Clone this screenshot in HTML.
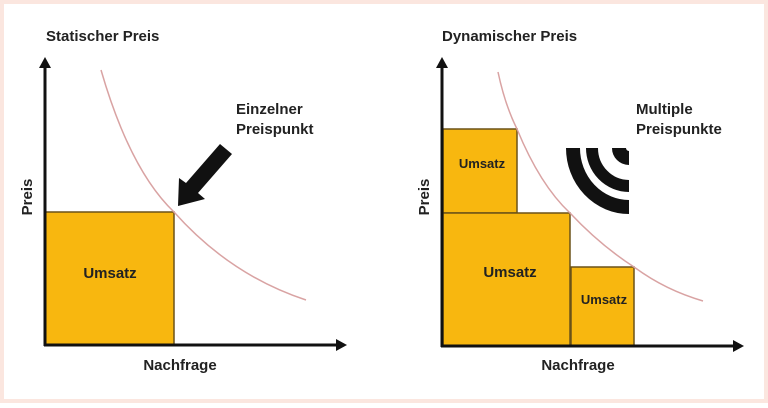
<!DOCTYPE html>
<html><head><meta charset="utf-8"><style>
html,body{margin:0;padding:0;background:#fff}
body{width:768px;height:403px;overflow:hidden}
svg text{font-family:"Liberation Sans",sans-serif;font-weight:bold;fill:#222}
</style></head><body>
<svg width="768" height="403" viewBox="0 0 768 403">
<rect x="2" y="2" width="764" height="399" fill="#fff" stroke="#fbe6df" stroke-width="4"/>
<!-- left panel -->
<text x="46" y="41" font-size="15">Statischer Preis</text>
<rect x="45" y="212" width="129" height="133" fill="#f8b70f" stroke="#6b5218" stroke-width="1.5"/>
<text x="110" y="278" font-size="15" text-anchor="middle" fill="#333">Umsatz</text>
<path d="M101 70 Q130 170 174 212 Q230 275 306 300" fill="none" stroke="#d9a3a3" stroke-width="1.5"/>
<line x1="45" y1="346" x2="45" y2="66" stroke="#111" stroke-width="3"/>
<polygon points="45,57 39,68 51,68" fill="#111"/>
<line x1="44" y1="345" x2="338" y2="345" stroke="#111" stroke-width="3"/>
<polygon points="347,345 336,339 336,351" fill="#111"/>
<text x="28" y="197" font-size="15" transform="rotate(-90 28 197)" text-anchor="middle" dominant-baseline="middle">Preis</text>
<text x="180" y="370" font-size="15" text-anchor="middle">Nachfrage</text>
<text x="236" y="114" font-size="15">Einzelner</text>
<text x="236" y="134" font-size="15">Preispunkt</text>
<polygon points="220,144 232,154 198,193 205,199 178,206 179,178 186,183" fill="#111"/>
<!-- right panel -->
<text x="442" y="41" font-size="15">Dynamischer Preis</text>
<rect x="443" y="129" width="74" height="84" fill="#f8b70f" stroke="#6b5218" stroke-width="1.5"/>
<rect x="443" y="213" width="127" height="133" fill="#f8b70f" stroke="#6b5218" stroke-width="1.5"/>
<rect x="571" y="267" width="63" height="79" fill="#f8b70f" stroke="#6b5218" stroke-width="1.5"/>
<text x="482" y="168" font-size="13" text-anchor="middle" fill="#333">Umsatz</text>
<text x="510" y="277" font-size="15" text-anchor="middle" fill="#333">Umsatz</text>
<text x="604" y="304" font-size="13" text-anchor="middle" fill="#333">Umsatz</text>
<path d="M498 72 Q505 105 517 129 Q540 185 570 213 Q600 245 634 267 Q665 290 703 301" fill="none" stroke="#d9a3a3" stroke-width="1.5"/>
<line x1="442" y1="347" x2="442" y2="66" stroke="#111" stroke-width="3"/>
<polygon points="442,57 436,68 448,68" fill="#111"/>
<line x1="441" y1="346" x2="735" y2="346" stroke="#111" stroke-width="3"/>
<polygon points="744,346 733,340 733,352" fill="#111"/>
<text x="425" y="197" font-size="15" transform="rotate(-90 425 197)" text-anchor="middle" dominant-baseline="middle">Preis</text>
<text x="578" y="370" font-size="15" text-anchor="middle">Nachfrage</text>
<text x="636" y="114" font-size="15">Multiple</text>
<text x="636" y="134" font-size="15">Preispunkte</text>
<g fill="none" stroke="#111">
<path d="M573 148 A56 59 0 0 0 629 207" stroke-width="14"/>
<path d="M592 148 A37 38 0 0 0 629 186" stroke-width="12"/>
<path d="M619 148 A10 10 0 0 0 629 158" stroke-width="14"/>
</g>
</svg>
</body></html>
